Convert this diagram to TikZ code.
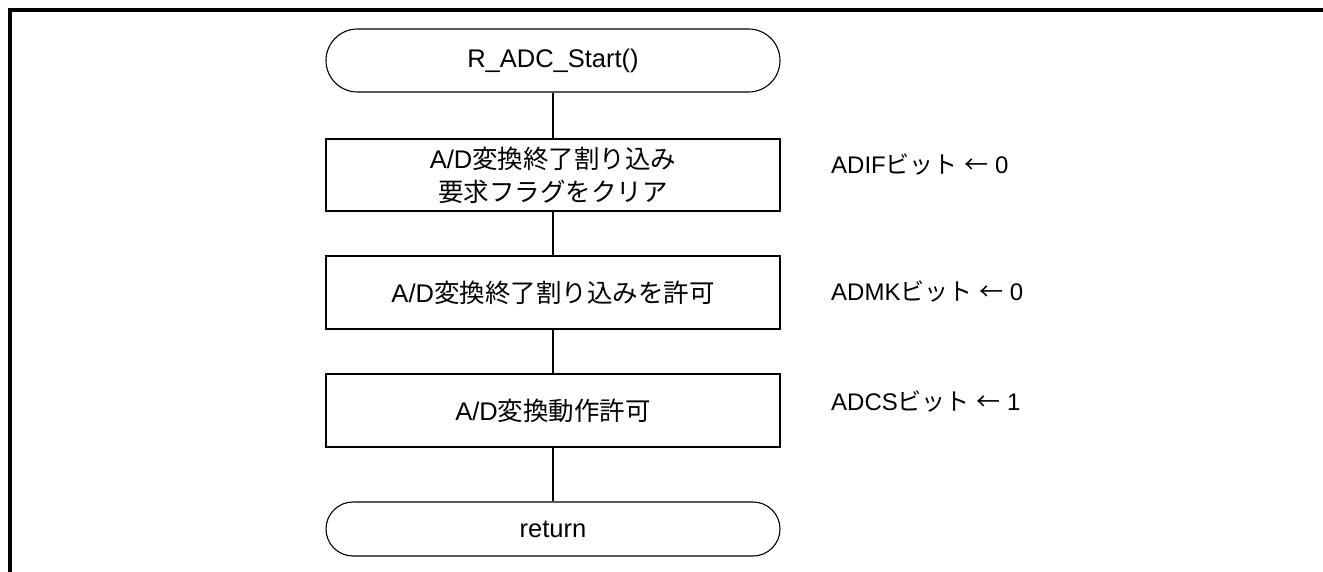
\documentclass[tikz,border=0pt]{standalone}
\usepackage{fontspec}
\setmainfont{Liberation Sans}
\newfontfamily\jp{Noto Sans CJK JP}
\usetikzlibrary{positioning}
\begin{document}
\begin{tikzpicture}[x=1pt,y=1pt,
  every node/.style={font=\fontsize{25.5}{33}\selectfont, inner sep=0pt},
  proc/.style={draw, line width=1.1pt, minimum width=454pt, align=center},
  term/.style={draw, line width=1.1pt, minimum width=454pt, rounded corners=#1, align=center},
  flow/.style={line width=1.1pt},
  note/.style={anchor=west, font=\fontsize{24}{30}\selectfont}]
\useasboundingbox (0,0) rectangle (1323,-572);
\draw[line width=4pt] (10,-572) -- (10,-10.5) -- (1323,-10.5);
\node[term=31.5pt, minimum height=63pt] (start) at (553,-60.5) {R\_ADC\_Start()};
\node[proc, minimum height=72pt] (b1) at (553,-175) {A/D{\jp 変換終了割り込み}\\{\jp 要求フラグをクリア}};
\node[proc, minimum height=73pt] (b2) at (553,-292.5) {A/D{\jp 変換終了割り込みを許可}};
\node[proc, minimum height=73pt] (b3) at (553,-410.5) {A/D{\jp 変換動作許可}};
\node[term=27pt, minimum height=54pt] (ret) at (553,-529) {return};
\draw[flow] (start) -- (b1);
\draw[flow] (b1) -- (b2);
\draw[flow] (b2) -- (b3);
\draw[flow] (b3) -- (ret);
\node[note] (n1) at (831,-165) {ADIF{\jp ビット} {\jp ←} 0};
\node[note] (n2) at (831,-292) {ADMK{\jp ビット} {\jp ←} 0};
\node[note] (n3) at (831,-402) {ADCS{\jp ビット} {\jp ←} 1};
\end{tikzpicture}
\end{document}
